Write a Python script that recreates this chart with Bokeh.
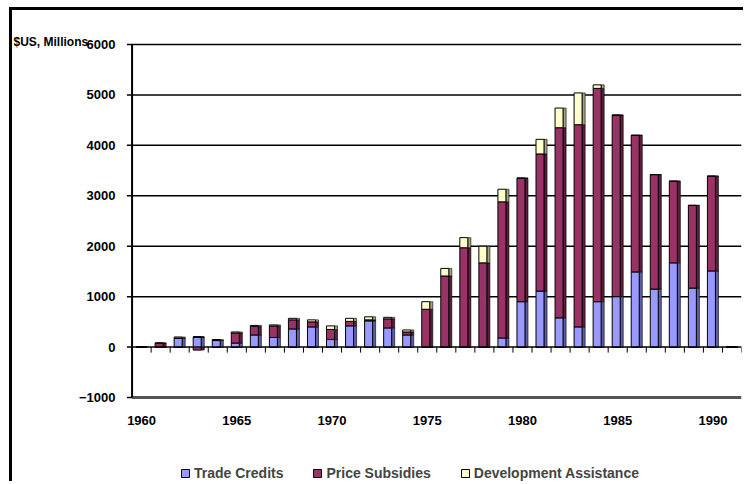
import numpy as np
from bokeh.plotting import figure
from bokeh.models import (ColumnDataSource, FixedTicker, Legend,
                          LegendItem, Range1d, Title)
from bokeh.transform import dodge
from bokeh.core.properties import value
from bokeh.embed import file_html
from bokeh.resources import INLINE

# ---- data ----
years = list(range(1960, 1992))
trade_credits = [0, 0, 180, 200, 130, 80, 240, 190, 360, 400, 150, 420, 520, 380, 240, 0,
                 0, 0, 0, 180, 900, 1110, 580, 400, 900, 1000, 1490, 1150, 1670, 1170, 1510, 0]
price_subsidies = [0, 80, 0, -60, 0, 200, 170, 230, 180, 100, 200, 90, 20, 180, 60, 750,
                   1410, 1970, 1670, 2700, 2450, 2720, 3770, 4010, 4230, 3600, 2710, 2270,
                   1620, 1640, 1880, 0]
development_assistance = [10, 0, 20, 0, 20, 20, 20, 20, 30, 40, 70, 60, 60, 30, 40, 150,
                          150, 200, 330, 250, 0, 290, 390, 630, 70, 0, 0, 0, 0, 0, 0, 10]
series_names = ["Trade Credits", "Price Subsidies", "Development Assistance"]
y_ticks = [-1000, 0, 1000, 2000, 3000, 4000, 5000, 6000]
x_label_years = years[:-1:5]
y_title = "$US, Millions"

colors = ["#9999FF", "#993366", "#FFFFCC"]
side_colors = ["#5E5EA8", "#5A1D3C", "#A3A37E"]

FONT = "Liberation Sans"

src = ColumnDataSource(dict(
    year=years,
    trade=np.clip(trade_credits, 0, None),
    price=np.clip(price_subsidies, 0, None),
    dev=np.clip(development_assistance, 0, None),
    price_neg=np.clip(price_subsidies, None, 0),
))

# the frame runs down to the bottom of the canvas (year labels and legend sit
# under the chart floor) and a little left of the value axis line
p = figure(width=734, height=474, output_backend="svg", toolbar_location=None,
           x_range=Range1d(years[0] - 1.16, years[-1] + 0.5),
           y_range=Range1d(-2725, 6040), x_axis_location=None,
           min_border_left=107, min_border_right=5, min_border_top=32,
           min_border_bottom=0)
p.styles = {"border-left": "3px solid black", "border-top": "3px solid black",
            "margin-left": "9px", "margin-top": "7px"}
p.outline_line_color = None
p.background_fill_color = "white"
p.border_fill_color = "white"

# y title in the top panel, moved left over the tick labels
p.add_layout(Title(text=y_title, align="left", offset=-106, standoff=-13,
                   text_font=FONT, text_font_style="bold", text_font_size="12px",
                   text_color="black"), "above")

axis_x = years[0] - 0.5
bounds = [y - 0.5 for y in years] + [years[-1] + 0.5]

# grid (from the value axis to the right end)
p.segment(x0=[axis_x] * len(y_ticks[2:]), y0=y_ticks[2:], x1=[bounds[-1]] * len(y_ticks[2:]),
          y1=y_ticks[2:], line_color="black", line_width=1.5)
p.xgrid.visible = False
p.ygrid.visible = False

# floor and zero line
p.segment(x0=[axis_x], y0=[y_ticks[0]], x1=[bounds[-1]], y1=[y_ticks[0]],
          line_color="#555555", line_width=3)
p.segment(x0=[axis_x], y0=[0], x1=[bounds[-1]], y1=[0], line_color="black", line_width=1.5)

# value axis line (from floor to top) and its tick marks
p.segment(x0=[axis_x], y0=[y_ticks[0]], x1=[axis_x], y1=[y_ticks[-1]],
          line_color="black", line_width=2)
p.segment(x0=[axis_x] * len(y_ticks), y0=y_ticks, x1=[axis_x - 0.27] * len(y_ticks),
          y1=y_ticks, line_color="black", line_width=1.5)

# category boundary tick marks on the zero line
p.segment(x0=bounds, y0=[0] * len(bounds), x1=bounds, y1=[-110] * len(bounds),
          line_color="black", line_width=1)

stack = ["trade", "price", "dev"]
# side faces (3D look)
p.vbar_stack(stack, x=dodge("year", 0.21, range=p.x_range), width=0.16, source=src,
             fill_color=side_colors, line_color="black", line_width=0.6)
p.vbar(x=dodge("year", 0.21, range=p.x_range), top=0, bottom="price_neg", width=0.16,
       source=src, fill_color=side_colors[1], line_color="black", line_width=0.6)
# front faces
fronts = p.vbar_stack(stack, x=dodge("year", -0.08, range=p.x_range), width=0.42,
                      source=src, fill_color=colors, line_color="black", line_width=1)
p.vbar(x=dodge("year", -0.08, range=p.x_range), top=0, bottom="price_neg", width=0.42,
       source=src, fill_color=colors[1], line_color="black", line_width=1)

# year labels under the floor
p.text(x=x_label_years, y=[y_ticks[0]] * len(x_label_years),
       text=[str(y) for y in x_label_years], y_offset=23,
       text_align="center", text_baseline="middle", text_font=value(FONT),
       text_font_style="bold", text_font_size="13px", text_color="black")

# value axis labels
p.yaxis.ticker = FixedTicker(ticks=y_ticks)
p.yaxis.axis_line_color = None
p.yaxis.major_tick_line_color = None
p.yaxis.major_tick_out = 0
p.yaxis.major_tick_in = 0
p.yaxis.minor_tick_line_color = None
p.yaxis.major_label_standoff = 4
p.yaxis.major_label_text_font = FONT
p.yaxis.major_label_text_font_style = "bold"
p.yaxis.major_label_text_font_size = "13px"
p.yaxis.major_label_text_color = "black"

legend = Legend(items=[LegendItem(label=n, renderers=[r]) for n, r in zip(series_names, fronts)],
                orientation="horizontal", location=(61, 1),
                glyph_width=10, glyph_height=10, label_standoff=4, spacing=29,
                padding=0, margin=0, border_line_color=None, background_fill_alpha=0,
                label_text_font=FONT, label_text_font_style="bold",
                label_text_font_size="14px", label_height=20)
p.add_layout(legend, "center")

open("out.html", "w").write(file_html(p, INLINE))
